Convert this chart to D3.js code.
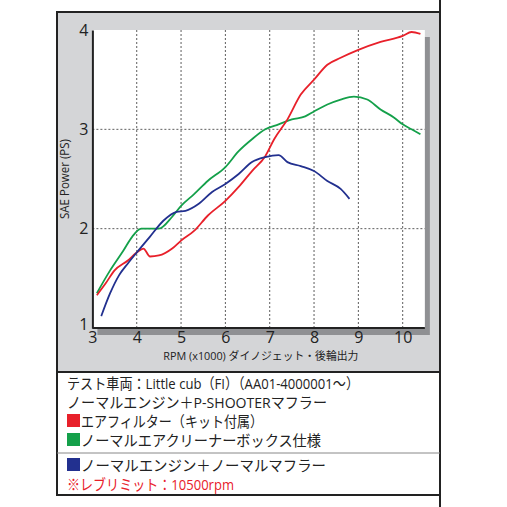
<!DOCTYPE html>
<html><head><meta charset="utf-8">
<script src="https://cdn.jsdelivr.net/npm/d3@7"></script>
<style>body{margin:0;background:#fff}text{font-family:"Open Sans","Noto Sans CJK JP",sans-serif}</style>
</head><body>
<script>
// data
var xTicks = [3, 4, 5, 6, 7, 8, 9, 10];
var yTicks = [1, 2, 3, 4];
var redRpm = [3.1,3.3,3.5,3.8,4.0,4.15,4.3,4.5,4.8,5.0,5.3,5.6,6.0,6.3,6.6,6.9,7.1,7.4,7.7,8.0,8.3,8.6,9.0,9.5,10.0,10.2,10.4];
var redPs  = [1.33,1.45,1.58,1.68,1.76,1.80,1.72,1.73,1.80,1.88,1.98,2.13,2.28,2.42,2.58,2.73,2.90,3.10,3.35,3.50,3.65,3.72,3.80,3.88,3.94,3.98,3.96];
var greenRpm = [3.1,3.4,3.7,3.9,4.1,4.3,4.5,4.8,5.0,5.3,5.6,6.0,6.3,6.6,6.9,7.2,7.5,7.8,8.0,8.3,8.6,8.9,9.2,9.5,9.8,10.0,10.2,10.4];
var greenPs  = [1.35,1.58,1.78,1.92,2.0,2.0,2.0,2.12,2.23,2.35,2.48,2.62,2.78,2.90,3.0,3.05,3.10,3.13,3.18,3.25,3.30,3.33,3.30,3.20,3.12,3.05,3.00,2.95];
var blueRpm = [3.2,3.4,3.6,3.8,4.0,4.3,4.6,4.9,5.1,5.4,5.7,6.0,6.3,6.6,6.9,7.2,7.4,7.7,8.0,8.3,8.6,8.8];
var bluePs  = [1.12,1.35,1.53,1.65,1.76,1.92,2.08,2.17,2.18,2.25,2.37,2.45,2.55,2.67,2.72,2.74,2.67,2.63,2.58,2.48,2.40,2.30];
var notes = [
  {t: "テスト車両：Little cub（FI）（AA01-4000001～）", c: "#222", sw: null, w: 292},
  {t: "ノーマルエンジン＋P-SHOOTERマフラー", c: "#222", sw: null, w: 260},
  {t: "エアフィルター（キット付属）", c: "#222", sw: "#e8202a", w: 182},
  {t: "ノーマルエアクリーナーボックス仕様", c: "#222", sw: "#14a04a", w: 240},
  {t: "ノーマルエンジン＋ノーマルマフラー", c: "#222", sw: "#22308f", w: 245},
  {t: "※レブリミット：10500rpm", c: "#e8202a", sw: null, w: 167}
];

var svg = d3.select("body").append("svg").attr("width", 507).attr("height", 507);

// frame
svg.append("line").attr("x1", 440).attr("x2", 440).attr("y1", 0).attr("y2", 507).attr("stroke", "#222").attr("stroke-width", 2);
svg.append("rect").attr("x", 57).attr("y", 12).attr("width", 383).attr("height", 360)
  .attr("fill", "#d4d5d7").attr("stroke", "#222").attr("stroke-width", 2);
svg.append("rect").attr("x", 57).attr("y", 372).attr("width", 383).attr("height", 123)
  .attr("fill", "#fff").attr("stroke", "#222").attr("stroke-width", 2);
svg.append("line").attr("x1", 57).attr("x2", 440).attr("y1", 453).attr("y2", 453).attr("stroke", "#888").attr("stroke-width", 1);

var x = d3.scaleLinear().domain([3, 10]).range([92.4, 402.7]);
var y = d3.scaleLinear().domain([1, 4]).range([328, 30]);
var xr = x(10.5);

// shadow + plot bg
svg.append("rect").attr("x", x(3) + 5).attr("y", y(4) + 7).attr("width", xr - x(3)).attr("height", y(1) - y(4))
  .attr("fill", "#8f9093");
svg.append("rect").attr("x", x(3)).attr("y", y(4)).attr("width", xr - x(3)).attr("height", y(1) - y(4)).attr("fill", "#fff");

// grid
var g = svg.append("g");
g.selectAll(".vx").data(xTicks.slice(1)).enter().append("line")
  .attr("x1", d => x(d)).attr("x2", d => x(d)).attr("y1", y(4)).attr("y2", y(1))
  .attr("stroke", "#333").attr("stroke-dasharray", "2,2").attr("stroke-width", 0.8);
g.selectAll(".hy").data([2, 3]).enter().append("line")
  .attr("x1", x(3)).attr("x2", xr).attr("y1", d => y(d)).attr("y2", d => y(d))
  .attr("stroke", "#333").attr("stroke-dasharray", "2,2").attr("stroke-width", 0.8);

// axes
var xAxis = svg.append("g").attr("transform", "translate(0," + y(1) + ")")
  .call(d3.axisBottom(x).tickValues(xTicks).tickSize(0).tickPadding(4).tickFormat(d3.format("d")));
xAxis.select(".domain").attr("stroke", "#222").attr("stroke-width", 2).attr("d", "M" + x(3) + ",0H" + xr);
xAxis.selectAll("text").attr("font-size", 16).attr("fill", "#222");
var yAxis = svg.append("g").attr("transform", "translate(" + x(3) + ",0)")
  .call(d3.axisLeft(y).tickValues(yTicks).tickSize(0).tickPadding(4).tickFormat(d3.format("d")));
yAxis.select(".domain").attr("stroke", "#222").attr("stroke-width", 2);
yAxis.selectAll("text").attr("font-size", 16).attr("fill", "#222");
yAxis.selectAll(".tick").filter(d => d === 1).select("text").attr("dy", "0.1em");

svg.append("text").attr("x", x(6.8)).attr("y", 360).attr("text-anchor", "middle")
  .attr("font-size", 11).attr("fill", "#222").attr("textLength", 195).attr("lengthAdjust", "spacingAndGlyphs")
  .text("RPM (x1000) ダイノジェット・後輪出力");
svg.append("text").attr("transform", "translate(69," + y(2.5) + ") rotate(-90)").attr("text-anchor", "middle")
  .attr("font-size", 12).attr("fill", "#222").attr("textLength", 80).attr("lengthAdjust", "spacingAndGlyphs")
  .text("SAE Power (PS)");

// curves
var line = d3.line().x(d => x(d[0])).y(d => y(d[1])).curve(d3.curveMonotoneX);
function draw(rpm, ps, col) {
  svg.append("path").datum(d3.zip(rpm, ps)).attr("d", line)
    .attr("fill", "none").attr("stroke", col).attr("stroke-width", 1.8);
}
draw(greenRpm, greenPs, "#14a04a");
draw(redRpm, redPs, "#e8202a");
draw(blueRpm, bluePs, "#22308f");

// notes
var ys = [389, 408, 427, 446, 471, 490];
notes.forEach(function(n, i) {
  var tx = 67;
  if (n.sw) {
    svg.append("rect").attr("x", 67).attr("y", ys[i] - 13).attr("width", 13).attr("height", 13).attr("fill", n.sw);
    tx = 81;
  }
  svg.append("text").attr("x", tx).attr("y", ys[i]).attr("font-size", 15).attr("fill", n.c)
    .attr("textLength", n.w).attr("lengthAdjust", "spacingAndGlyphs").text(n.t);
});
</script>
</body></html>
